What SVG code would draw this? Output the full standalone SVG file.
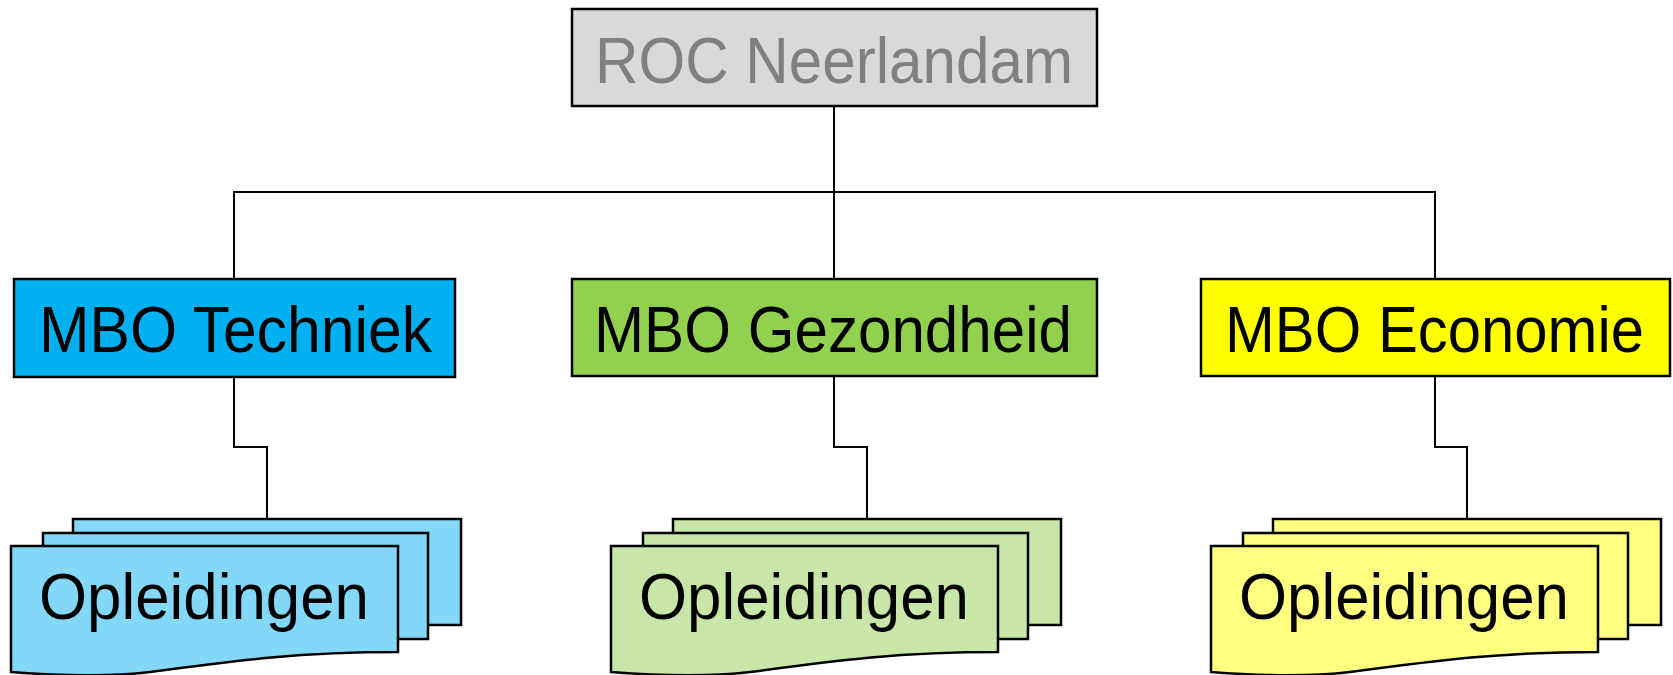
<svg xmlns="http://www.w3.org/2000/svg" width="1673" height="675" viewBox="0 0 1673 675">
  <style>
    .box { stroke: #000; stroke-width: 2.5; }
    .card { stroke: #000; stroke-width: 2.5; }
    .wire { fill: none; stroke: #000; stroke-width: 2; }
    .lbl { font-family: "Liberation Sans", Arial, sans-serif; font-size: 64px; text-anchor: middle; fill: #000; }
  </style>
  <rect width="1673" height="675" fill="#fff"/>

  <!-- connectors -->
  <g id="connectors">
    <path class="wire" d="M834,106 V192"/>
    <path class="wire" d="M234,279 V192 H1435 V279"/>
    <path class="wire" d="M834,192 V279"/>
    <path class="wire" d="M234,377 V447 H267 V519"/>
    <path class="wire" d="M834,376 V447 H867 V519"/>
    <path class="wire" d="M1435,376 V447 H1467 V519"/>
  </g>

  <!-- root -->
  <g id="roc">
    <rect class="box" x="572" y="9" width="525" height="97" fill="#D9D9D9"/>
    <text class="lbl" x="834" y="83" fill="#808080" style="fill:#808080" textLength="478" lengthAdjust="spacingAndGlyphs">ROC Neerlandam</text>
  </g>

  <!-- divisions -->
  <g id="techniek">
    <rect class="box" x="14" y="279" width="441" height="98" fill="#00B0F0"/>
    <text class="lbl" x="235.5" y="352" textLength="393" lengthAdjust="spacingAndGlyphs">MBO Techniek</text>
  </g>
  <g id="gezondheid">
    <rect class="box" x="572" y="279" width="525" height="97" fill="#92D050"/>
    <text class="lbl" x="833" y="352" textLength="478" lengthAdjust="spacingAndGlyphs">MBO Gezondheid</text>
  </g>
  <g id="economie">
    <rect class="box" x="1201" y="279" width="469" height="97" fill="#FFFF00"/>
    <text class="lbl" x="1434.5" y="352" textLength="419" lengthAdjust="spacingAndGlyphs">MBO Economie</text>
  </g>

  <!-- stacked programme cards -->
  <defs>
    <g id="stack">
      <rect class="card" x="73" y="519" width="388" height="106"/>
      <rect class="card" x="43" y="533" width="385" height="106"/>
      <path class="card" d="M11,546 H398 V652 C300,652 240,660 150,672 C100,678 50,675 11,672 Z"/>
    </g>
  </defs>

  <g id="opleidingen-techniek" fill="#83D8F7">
    <use href="#stack"/>
    <text class="lbl" x="204" y="619" textLength="330" lengthAdjust="spacingAndGlyphs">Opleidingen</text>
  </g>
  <g id="opleidingen-gezondheid" fill="#C8E6A8">
    <use href="#stack" transform="translate(600,0)"/>
    <text class="lbl" x="804" y="619" textLength="330" lengthAdjust="spacingAndGlyphs">Opleidingen</text>
  </g>
  <g id="opleidingen-economie" fill="#FFFF80">
    <use href="#stack" transform="translate(1200,0)"/>
    <text class="lbl" x="1404" y="619" textLength="330" lengthAdjust="spacingAndGlyphs">Opleidingen</text>
  </g>
</svg>
